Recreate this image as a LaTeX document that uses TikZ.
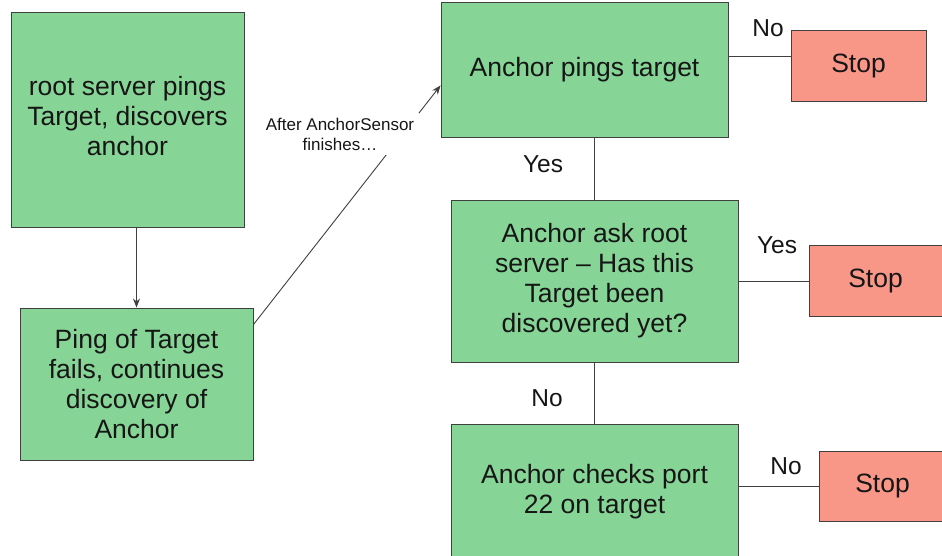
\documentclass[tikz,border=0pt]{standalone}
\usepackage{fontspec}
\setmainfont{Liberation Sans}
\usetikzlibrary{arrows.meta}
\definecolor{boxgreen}{RGB}{134,213,150}
\definecolor{boxred}{RGB}{248,151,136}
\definecolor{edgegray}{RGB}{64,64,64}
\definecolor{txt}{RGB}{22,22,22}
\tikzset{
  greenbox/.style={draw=edgegray, line width=0.9pt, fill=boxgreen, align=center, inner sep=0pt,
    text=txt, font=\fontsize{26.5}{30}\selectfont},
  stopbox/.style={draw=edgegray, line width=0.9pt, fill=boxred, align=center, inner sep=0pt,
    text=txt, font=\fontsize{26.5}{30}\selectfont},
  conn/.style={draw=edgegray, line width=0.9pt},
  arr/.style={conn, -{Stealth[length=9pt,width=7pt]}},
  lbl/.style={text=txt, font=\fontsize{24.5}{28}\selectfont, inner sep=0pt},
  small/.style={text=txt, font=\fontsize{17}{20}\selectfont, align=center, fill=white, inner sep=5pt}
}
\begin{document}
\begin{tikzpicture}[x=1pt,y=-1pt]
\useasboundingbox (0,0) rectangle (942,556);
\fill[white] (0,0) rectangle (942,556);

\node[greenbox, minimum width=233pt, minimum height=215pt] (b1) at (127.5,119.5)
  {\raisebox{4pt}{\begin{tabular}{@{}c@{}}root server pings\\Target, discovers\\anchor\end{tabular}}};
\node[greenbox, minimum width=233pt, minimum height=152pt] (b2) at (136.5,384)
  {Ping of Target\\fails, continues\\discovery of\\Anchor};
\node[greenbox, minimum width=287pt, minimum height=135pt] (b3) at (584.5,69.5)
  {Anchor pings target};
\node[stopbox, minimum width=135pt, minimum height=71pt] (s1) at (858.5,65.5) {Stop};
\node[greenbox, minimum width=287pt, minimum height=162pt] (b5) at (594.5,281)
  {Anchor ask root\\server -- Has this\\Target been\\discovered yet?};
\node[stopbox, minimum width=137pt, minimum height=71pt] (s2) at (877.5,280.5) {\hspace*{-2pt}Stop\hspace*{2pt}};
\node[greenbox, minimum width=287pt, minimum height=136pt] (b7) at (594.5,492)
  {\raisebox{2pt}{\begin{tabular}{@{}c@{}}Anchor checks port\\22 on target\end{tabular}}};
\node[stopbox, minimum width=127pt, minimum height=70pt] (s3) at (882.5,486) {Stop};

% connectors
\draw[arr] (b2.north |- b1.south) -- (b2.north);
\coordinate (d1) at ([yshift=-17pt]b2.north east);
\coordinate (d2) at ([yshift=52pt]b3.south west);
\draw[arr] (d1) -- (d2);
\node[small] (lab) at (340,134) {After AnchorSensor\\finishes\ldots};

\coordinate (c1) at ([yshift=13pt]b3.east);
\draw[conn] (c1) -- (c1 -| s1.west);
\draw[conn] (b5.north |- b3.south) -- (b5.north);
\draw[conn] (b5.east) -- (b5.east -| s2.west);
\draw[conn] (b5.south) -- (b7.north);
\draw[conn] (b7.east |- s3.west) -- (s3.west);

% labels
\node[lbl] (n1) at (768,28) {No};
\node[lbl] (y1) at (543,164) {Yes};
\node[lbl] (y2) at (777,245) {Yes};
\node[lbl] (n2) at (547,398) {No};
\node[lbl] (n3) at (786,466) {No};
\end{tikzpicture}
\end{document}
